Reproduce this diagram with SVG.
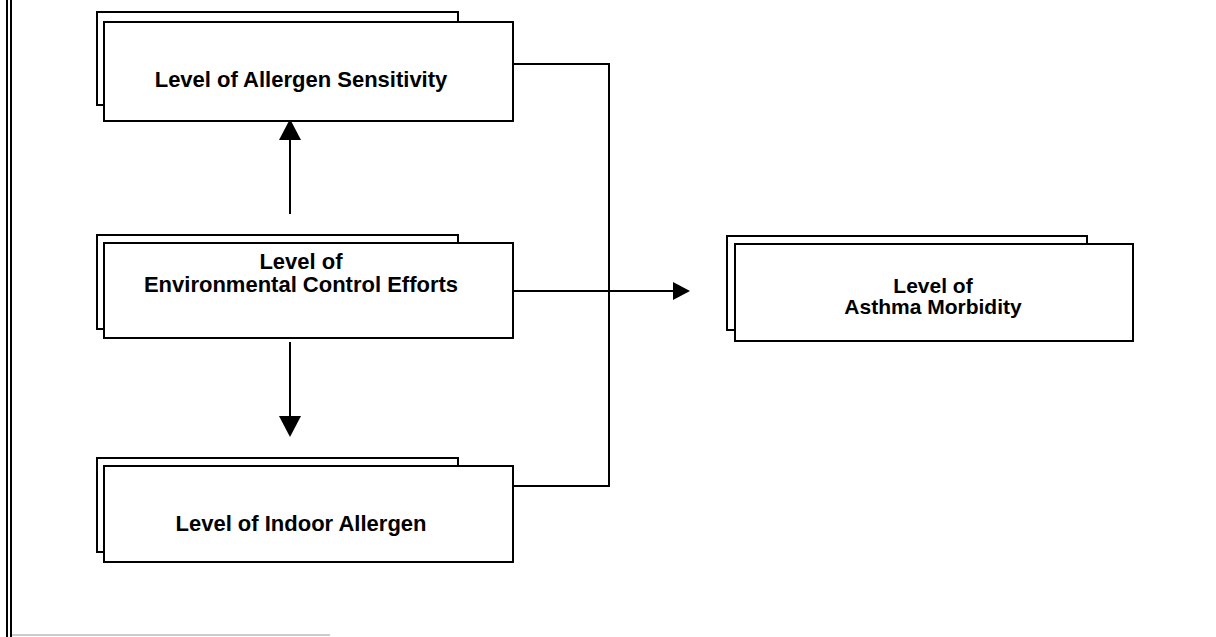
<svg xmlns="http://www.w3.org/2000/svg" width="1216" height="637" viewBox="0 0 1216 637">
<style>
.box{fill:#fff;stroke:#000;stroke-width:2}
.t{font-family:"Liberation Sans",Arial,sans-serif;font-weight:bold;font-size:22px;fill:#000;text-anchor:middle}
.tb{font-family:"Liberation Sans",Arial,sans-serif;font-weight:bold;font-size:21px;fill:#000;text-anchor:middle}
.ln{fill:none;stroke:#000;stroke-width:2}
</style>
<rect width="1216" height="637" fill="#fff"/>
<g id="frame">
<line x1="7" y1="0" x2="7" y2="637" stroke="#000" stroke-width="2"/>
<line x1="11" y1="0" x2="11" y2="637" stroke="#000" stroke-width="2"/>
<line x1="12" y1="635" x2="330" y2="635" stroke="#ccc" stroke-width="2"/>
</g>
<g id="connectors">
<polyline class="ln" points="513,64 609,64 609,486 513,486"/>
<line class="ln" x1="513" y1="291" x2="675" y2="291"/>
<polygon points="673,282 690,291 673,300" fill="#000"/>
<line class="ln" x1="290" y1="214" x2="290" y2="138"/>
<polygon points="279,140 290,119 301,140" fill="#000"/>
<line class="ln" x1="290" y1="342" x2="290" y2="418"/>
<polygon points="279,416 290,437 301,416" fill="#000"/>
</g>
<g id="n1">
<rect class="box" x="97" y="12" width="361" height="93"/>
<rect class="box" x="104" y="22" width="409" height="99"/>
<text class="t" x="301" y="87">Level of Allergen Sensitivity</text>
</g>
<g id="n2">
<rect class="box" x="97" y="235" width="361" height="94"/>
<rect class="box" x="104" y="243" width="409" height="95"/>
<text class="t" x="301" y="269">Level of</text>
<text class="t" x="301" y="292">Environmental Control Efforts</text>
</g>
<g id="n3">
<rect class="box" x="97" y="458" width="361" height="94"/>
<rect class="box" x="104" y="466" width="409" height="96"/>
<text class="t" x="301" y="531">Level of Indoor Allergen</text>
</g>
<g id="n4">
<rect class="box" x="727" y="236" width="360" height="94"/>
<rect class="box" x="735" y="244" width="398" height="97"/>
<text class="tb" x="933" y="293">Level of</text>
<text class="tb" x="933" y="314">Asthma Morbidity</text>
</g>
</svg>
